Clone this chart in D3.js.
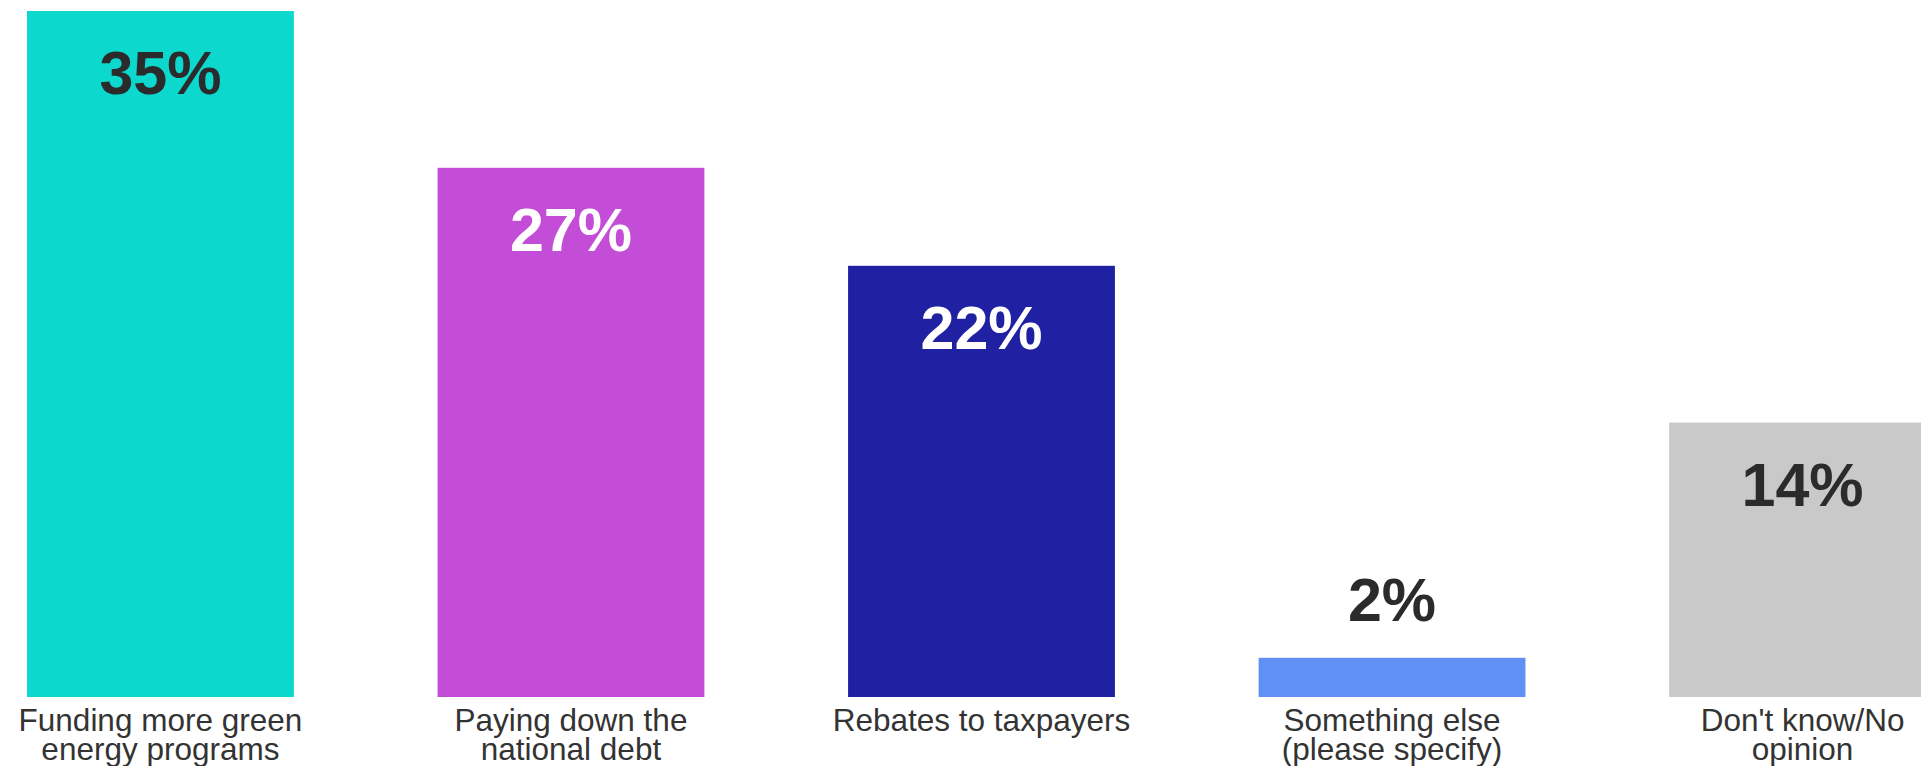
<!DOCTYPE html>
<html>
<head>
<meta charset="utf-8">
<script src="https://cdn.jsdelivr.net/npm/d3@7"></script>
<style>
  html, body { margin: 0; padding: 0; background: #ffffff; overflow: hidden; }
  svg { display: block; font-family: "Liberation Sans", Arial, Helvetica, sans-serif; }
</style>
</head>
<body>
<svg id="chart" width="1921" height="766"></svg>
<script>
// Survey answers and their shares (percent)
const categories = [
  ["Funding more green", "energy programs"],
  ["Paying down the", "national debt"],
  ["Rebates to taxpayers"],
  ["Something else", "(please specify)"],
  ["Don't know/No", "opinion"]
];
const values = [35, 27, 22, 2, 14];
const barColors = ["#0dd8cd", "#c44dd7", "#2020a2", "#6090f4", "#c9c9c9"];
const valueLabelColors = ["#2b2b2b", "#ffffff", "#ffffff", "#2b2b2b", "#2b2b2b"];

const svg = d3.select("#chart");

const x = d3.scaleBand()
  .domain(d3.range(values.length))
  .range([27, 1936])
  .paddingInner(0.35)
  .paddingOuter(0);

const y = d3.scaleLinear()
  .domain([0, 35])
  .range([697, 11]);

const g = svg.append("g");

// Bars
g.selectAll("rect.bar")
  .data(values)
  .join("rect")
  .attr("class", "bar")
  .attr("x", (d, i) => x(i))
  .attr("width", x.bandwidth())
  .attr("y", d => y(d))
  .attr("height", d => y(0) - y(d))
  .attr("fill", (d, i) => barColors[i]);

// Value labels: inside the bar near its top, above it when the bar is short
g.selectAll("text.value")
  .data(values)
  .join("text")
  .attr("class", "value")
  .attr("x", (d, i) => x(i) + x.bandwidth() / 2)
  .attr("y", d => (y(0) - y(d) > 100) ? y(d) + 83 : y(d) - 37)
  .attr("text-anchor", "middle")
  .attr("font-size", 61)
  .attr("font-weight", "bold")
  .attr("fill", (d, i) => valueLabelColors[i])
  .text(d => d + "%");

// Category labels under each bar
const labels = g.selectAll("text.cat")
  .data(categories)
  .join("text")
  .attr("class", "cat")
  .attr("x", (d, i) => x(i) + x.bandwidth() / 2)
  .attr("y", 731)
  .attr("text-anchor", "middle")
  .attr("font-size", 31.5)
  .attr("fill", "#333333");

labels.selectAll("tspan")
  .data(d => d)
  .join("tspan")
  .attr("x", function () { return d3.select(this.parentNode).attr("x"); })
  .attr("dy", (d, i) => i === 0 ? 0 : 29)
  .text(d => d);
</script>
</body>
</html>
